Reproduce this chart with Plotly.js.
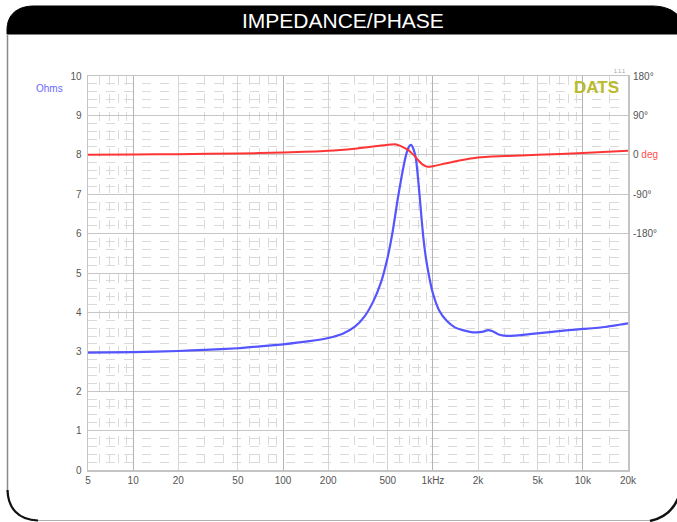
<!DOCTYPE html>
<html>
<head>
<meta charset="utf-8">
<script src="https://cdn.plot.ly/plotly-3.0.1.min.js"></script>
<style>html,body{margin:0;padding:0;background:#fff;}#chart{width:677px;height:522px;}</style>
</head>
<body>
<div id="chart"></div>
<script>
// Impedance magnitude (ohms)
const zFreq = [5, 10, 20, 30, 50, 70, 100, 150, 200, 250, 300, 350, 400, 450, 500, 540, 580, 620, 660, 690, 715, 740, 770, 800, 830, 860, 900, 950, 1000, 1100, 1240, 1400, 1580, 1800, 2040, 2200, 2320, 2500, 2750, 3000, 3500, 4400, 6000, 8000, 10000, 14000, 20000];
const zOhms = [2.98, 2.99, 3.02, 3.05, 3.09, 3.14, 3.19, 3.27, 3.35, 3.46, 3.63, 3.90, 4.28, 4.76, 5.42, 6.08, 6.84, 7.48, 7.98, 8.20, 8.25, 8.15, 7.90, 7.30, 6.60, 5.95, 5.35, 4.85, 4.48, 4.05, 3.78, 3.62, 3.55, 3.50, 3.50, 3.52, 3.55, 3.52, 3.44, 3.41, 3.41, 3.45, 3.50, 3.55, 3.58, 3.63, 3.72];
// Phase (degrees)
const pFreq = [5, 10, 20, 50, 100, 200, 300, 400, 500, 560, 600, 650, 700, 750, 800, 850, 910, 1000, 1200, 1500, 2000, 3000, 5000, 10000, 20000];
const pDeg = [0, 0.5, 1.5, 3, 5, 9, 14, 19, 23, 24, 21, 15, 8, -2, -13, -22, -27, -26, -20, -13, -6, -3, 0, 4, 9];
// Tick labels
const xTickVals = [5, 10, 20, 50, 100, 200, 500, 1000, 2000, 5000, 10000, 20000];
const xTickText = ["5", "10", "20", "50", "100", "200", "500", "1kHz", "2k", "5k", "10k", "20k"];
const xDecades = [10, 100, 1000, 10000];
const phaseTickVals = [-180, -90, 0, 90, 180];
const phaseTickText = ["-180°", "-90°", "0 <span style='color:#ff5050'>deg</span>", "90°", "180°"];

const minorX = [];
[1, 10, 100, 1000].forEach(d => { [2,3,4,5,6,7,8,9].forEach(m => { const v = d*m; if (v > 5 && v < 20000 && xTickVals.indexOf(v) < 0) minorX.push(v); }); });
minorX.push(15000);

const L = 88, R = 628, T = 76, B = 470;
const px = x => (x - L) / (R - L);
const py = y => (B - y) / (B - T);
const P = (x, y) => px(x) + ',' + py(y);

const shapes = [
  // title band
  {type: 'path', xref: 'paper', yref: 'paper', layer: 'above',
   path: 'M ' + P(7, 34) + ' L ' + P(7, 30) + ' C ' + P(7, 14) + ' ' + P(18, 6) + ' ' + P(34, 6) +
         ' L ' + P(652, 6) + ' C ' + P(672, 6) + ' ' + P(684, 16) + ' ' + P(686, 34) + ' Z',
   fillcolor: '#000', line: {color: '#000', width: 1}},
  // left border
  {type: 'path', xref: 'paper', yref: 'paper', layer: 'above',
   path: 'M ' + P(7.5, 34) + ' L ' + P(7.5, 492), line: {color: '#8a8a8a', width: 1.5}},
  // bottom border
  {type: 'path', xref: 'paper', yref: 'paper', layer: 'above',
   path: 'M ' + P(36, 520.5) + ' L ' + P(652, 520.5), line: {color: '#b0b0b0', width: 1.2}},
  // bottom-left corner
  {type: 'path', xref: 'paper', yref: 'paper', layer: 'above',
   path: 'M ' + P(7.5, 490) + ' C ' + P(8, 508) + ' ' + P(18, 520) + ' ' + P(38, 520.5), line: {color: '#111', width: 2.2}},
  // bottom-right corner
  {type: 'path', xref: 'paper', yref: 'paper', layer: 'above',
   path: 'M ' + P(650, 521) + ' C ' + P(664, 518) + ' ' + P(674, 510) + ' ' + P(679, 496), line: {color: '#111', width: 2.4}}
];

const annotations = [
  {xref: 'paper', yref: 'paper', x: px(343), y: py(20), text: 'IMPEDANCE/PHASE', showarrow: false,
   font: {family: 'Liberation Sans, Arial, sans-serif', size: 21, color: '#fff'}, xanchor: 'center', yanchor: 'middle'},
  {xref: 'paper', yref: 'paper', x: px(65), y: py(88), text: 'Ohms', showarrow: false,
   font: {family: 'Liberation Sans, Arial, sans-serif', size: 10, color: '#6a6aff'}, xanchor: 'right', yanchor: 'middle'},
  {xref: 'paper', yref: 'paper', x: px(621), y: py(87), text: '<b>DATS</b>', showarrow: false,
   font: {family: 'Liberation Sans, Arial, sans-serif', size: 17, color: '#b9b92a'}, xanchor: 'right', yanchor: 'middle'},
  {xref: 'paper', yref: 'paper', x: px(619), y: py(71), text: '1.1.1', showarrow: false,
   font: {family: 'Liberation Sans, Arial, sans-serif', size: 5, color: '#999'}, xanchor: 'center', yanchor: 'middle'}
];

const tickFont = {family: 'Liberation Sans, Arial, sans-serif', size: 10, color: '#555'};

const traces = [
  {x: zFreq, y: zOhms, xaxis: 'x', yaxis: 'y', type: 'scatter', mode: 'lines',
   line: {color: '#5555ff', width: 2.2, shape: 'spline', smoothing: 0.5}, hoverinfo: 'x+y', name: 'Impedance'},
  {x: pFreq, y: pDeg, xaxis: 'x2', yaxis: 'y2', type: 'scatter', mode: 'lines',
   line: {color: '#ff3535', width: 2, shape: 'spline', smoothing: 0.6}, hoverinfo: 'x+y', name: 'Phase'}
];

const xr = [Math.log10(5), Math.log10(20000)];
const layout = {
  width: 677, height: 522,
  margin: {l: L, r: 677 - R, t: T, b: 522 - B, pad: 0},
  paper_bgcolor: '#fff', plot_bgcolor: '#fff',
  showlegend: false,
  font: tickFont,
  xaxis: {type: 'log', range: xr, tickmode: 'array', tickvals: xTickVals, ticktext: xTickText,
    showgrid: true, gridcolor: '#d4d4d4', gridwidth: 1, griddash: 'solid',
    minor: {tickmode: 'array', tickvals: minorX, showgrid: true, gridcolor: '#dadada', griddash: 'dash', gridwidth: 1, ticks: ''},
    showline: true, linecolor: '#c4c4c4', linewidth: 1.5, mirror: true, ticks: '', ticklen: 0,
    tickfont: tickFont, zeroline: false, fixedrange: true},
  xaxis2: {type: 'log', range: xr, overlaying: 'x', tickmode: 'array', tickvals: xDecades,
    showticklabels: false, showgrid: true, gridcolor: '#b4b4b4', gridwidth: 1, ticks: '', showline: false, zeroline: false},
  yaxis: {range: [0, 10], tickmode: 'linear', tick0: 0, dtick: 1,
    showgrid: true, gridcolor: '#c6c6c6', gridwidth: 1,
    minor: {dtick: 0.2, showgrid: true, gridcolor: '#dadada', griddash: 'dash', gridwidth: 1, ticks: ''},
    showline: true, linecolor: '#c4c4c4', linewidth: 1.5, mirror: true, ticks: '', ticklen: 0,
    tickfont: tickFont, zeroline: false, fixedrange: true, ticklabelstandoff: 3},
  yaxis2: {range: [-720, 180], overlaying: 'y', side: 'right', anchor: 'x2', tickmode: 'array',
    tickvals: phaseTickVals, ticktext: phaseTickText, showgrid: false, zeroline: false,
    ticks: '', tickfont: tickFont, showline: false, ticklabelstandoff: 4},
  shapes: shapes,
  annotations: annotations
};

Plotly.newPlot('chart', traces, layout, {displayModeBar: false, staticPlot: true});
</script>
</body>
</html>
